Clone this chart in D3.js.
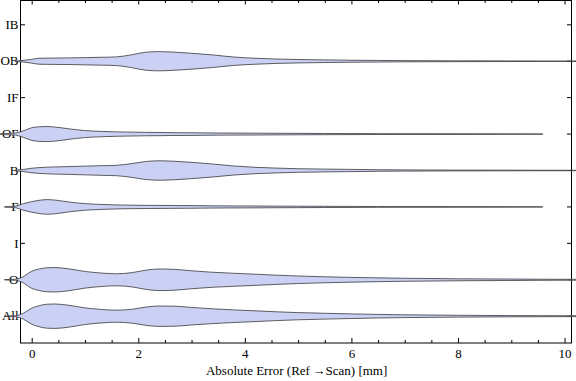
<!DOCTYPE html>
<html>
<head>
<meta charset="utf-8">
<script src="https://cdn.jsdelivr.net/npm/d3@7"></script>
<style>
  body { margin: 0; background: #fff; }
  svg { display: block; font-family: "Liberation Serif", "DejaVu Serif", serif; }
</style>
</head>
<body>
<svg id="chart"></svg>
<script>
width = 576;
height = 381;
margin = ({ top: 0, right: 5, bottom: 38, left: 20 });

// categories, top to bottom
categories = ["IB", "OB", "IF", "OF", "B", "F", "I", "O", "All"];

// sample positions along the error axis [mm]
errGrid = [-0.6, -0.5, -0.3, -0.15, 0, 0.15, 0.3, 0.45, 0.7, 1.0, 1.3, 1.6, 1.9, 2.15, 2.4,
           2.7, 3.0, 3.4, 3.8, 4.2, 4.6, 5.0, 5.5, 6.0, 6.5, 7.0, 8.0, 9.0, 9.6, 10.5];

// estimated densities (null = outside the violin)
densOB  = [null, null, 0.005, 0.02, 0.045, 0.075, 0.078, 0.08, 0.083, 0.09, 0.098, 0.108, 0.165, 0.225, 0.24,
           0.225, 0.2, 0.158, 0.105, 0.075, 0.055, 0.043, 0.033, 0.025, 0.02, 0.015, 0.01, 0.008, 0.005, 0.005];
densOF  = [0.005, 0.013, 0.025, 0.08, 0.155, 0.183, 0.188, 0.175, 0.133, 0.088, 0.068, 0.055, 0.048, 0.043, 0.04,
           0.035, 0.033, 0.028, 0.025, 0.023, 0.02, 0.018, 0.015, 0.013, 0.01, 0.009, 0.008, 0.005, 0.003, null];
densB   = [null, null, 0.005, 0.025, 0.055, 0.073, 0.083, 0.09, 0.098, 0.108, 0.12, 0.13, 0.175, 0.225, 0.243,
           0.23, 0.205, 0.163, 0.113, 0.08, 0.06, 0.045, 0.035, 0.028, 0.02, 0.015, 0.01, 0.008, 0.006, 0.005];
densF   = [null, 0.005, 0.02, 0.08, 0.13, 0.165, 0.183, 0.17, 0.125, 0.083, 0.063, 0.05, 0.043, 0.04, 0.038,
           0.035, 0.033, 0.028, 0.025, 0.023, 0.02, 0.018, 0.015, 0.013, 0.01, 0.009, 0.008, 0.005, 0.003, null];
densO   = [null, 0.005, 0.013, 0.075, 0.208, 0.27, 0.3, 0.305, 0.275, 0.21, 0.17, 0.15, 0.18, 0.24, 0.27,
           0.26, 0.225, 0.188, 0.163, 0.14, 0.115, 0.095, 0.075, 0.06, 0.048, 0.038, 0.025, 0.018, 0.013, 0.01];
densAll = [null, 0.005, 0.013, 0.07, 0.195, 0.263, 0.3, 0.305, 0.275, 0.21, 0.17, 0.15, 0.175, 0.228, 0.255,
           0.25, 0.22, 0.185, 0.158, 0.135, 0.11, 0.09, 0.073, 0.058, 0.045, 0.035, 0.023, 0.015, 0.013, 0.01];

series = [
  { cat: "OB", dens: densOB },
  { cat: "OF", dens: densOF },
  { cat: "B", dens: densB },
  { cat: "F", dens: densF },
  { cat: "O", dens: densO },
  { cat: "All", dens: densAll }
];

majorTicks = [0, 2, 4, 6, 8, 10];
minorTicks = d3.range(0, 10.01, 0.5).filter(v => v % 2 !== 0);
xTitle = "Absolute Error (Ref\u2009\u2192Scan) [mm]";

const svg = d3.select("#chart")
    .attr("width", width)
    .attr("height", height);

const x = d3.scaleLinear()
    .domain([-0.21, 10.13])
    .range([margin.left, width - margin.right]);

const y = d3.scalePoint()
    .domain(categories)
    .range([24.3, 315.7]);

const w = d3.scaleLinear()
    .domain([0, 0.3])
    .range([0, 12]);

const plotBottom = height - margin.bottom;

// frame
svg.append("rect")
    .attr("x", x.range()[0] + 0.5)
    .attr("y", 0.5)
    .attr("width", x.range()[1] - x.range()[0])
    .attr("height", plotBottom - 0.5)
    .attr("fill", "none")
    .attr("stroke", "#000")
    .attr("stroke-width", 1);

// bottom axis
const xAxisBottom = g => g
    .attr("transform", `translate(0.5, ${plotBottom})`)
    .call(d3.axisBottom(x).tickValues(majorTicks).tickSize(-5).tickPadding(6).tickFormat(d3.format("d")))
    .call(g => g.select(".domain").remove())
    .call(g => g.selectAll(".tick text")
        .attr("font-size", 13).attr("fill", "#000")
        .attr("font-family", "Liberation Serif, serif"));

svg.append("g").call(xAxisBottom);

svg.append("g")
    .attr("transform", `translate(0.5, ${plotBottom})`)
    .call(d3.axisBottom(x).tickValues(minorTicks).tickSize(-3).tickFormat(""))
    .call(g => g.select(".domain").remove());

// top axis ticks
svg.append("g")
    .attr("transform", `translate(0.5, 0)`)
    .call(d3.axisTop(x).tickValues(majorTicks).tickSize(-4.5).tickFormat(""))
    .call(g => g.select(".domain").remove());
svg.append("g")
    .attr("transform", `translate(0.5, 0)`)
    .call(d3.axisTop(x).tickValues(minorTicks).tickSize(-3).tickFormat(""))
    .call(g => g.select(".domain").remove());

// left axis
svg.append("g")
    .attr("transform", `translate(${x.range()[0] + 0.5}, 0)`)
    .call(d3.axisLeft(y).tickSize(-4.5).tickPadding(2))
    .call(g => g.select(".domain").remove())
    .call(g => g.selectAll(".tick text")
        .attr("font-size", 13).attr("fill", "#000")
        .attr("font-family", "Liberation Serif, serif"));

// right axis ticks
svg.append("g")
    .attr("transform", `translate(${x.range()[1] + 0.5}, 0)`)
    .call(d3.axisRight(y).tickSize(-4.5).tickFormat(""))
    .call(g => g.select(".domain").remove());

// axis title
svg.append("text")
    .attr("x", (x(0) + x(10)) / 2 - 1)
    .attr("y", height - 6)
    .attr("text-anchor", "middle")
    .attr("font-size", 13)
    .attr("fill", "#000")
    .text(xTitle);

// violins
const area = d3.area()
    .defined(d => d.v !== null)
    .x(d => x(d.e))
    .y0(d => d.c - w(d.v))
    .y1(d => d.c + w(d.v))
    .curve(d3.curveMonotoneX);

svg.append("g")
    .selectAll("path")
    .data(series)
    .join("path")
    .attr("d", s => area(errGrid.map((e, i) => ({ e: e, v: s.dens[i], c: y(s.cat) + 0.5 }))))
    .attr("fill", "rgb(203, 209, 244)")
    .attr("stroke", "#3a3a3a")
    .attr("stroke-opacity", 0.8)
    .attr("stroke-width", 1);
</script>
</body>
</html>
